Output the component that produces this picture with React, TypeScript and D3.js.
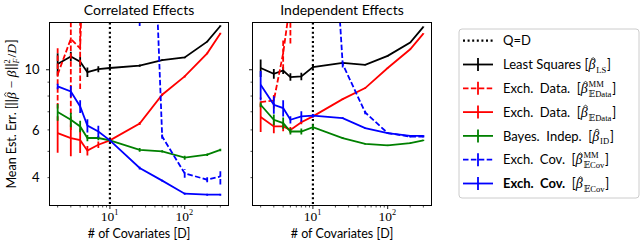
import React, { useEffect, useRef } from 'react';
import * as d3 from 'd3';

// number of covariates (shared x values)
const covariates = [2, 3, 4, 5, 7, 10, 25, 50, 100, 200, 300];

// --- Correlated effects ---
const corrLS = [10.5, 11.2, 10.7, 9.8, 10.05, 10.15, 10.35, 10.85, 11.1, 12.7, 14.5];
const corrLSErr = [1.0, 0.45, 0.45, 0.4, 0.25, 0.2, 0.1, 0.08, 0.08, 0.08, 0.08];
const corrEDataMM = [9.6, 13.0, 12.0, 80, 200, 400, 700, 900, 1100, 1300, 1500];
const corrEDataMMErr = [2.4, 7.0, 3.5, 40, 100, 200, 300, 400, 500, 600, 700];
const corrEData = [5.84, 5.6, 5.5, 5.03, 5.29, 5.49, 6.33, 8.09, 9.45, 11.5, 13.6];
const corrEDataErr = [0.9, 0.8, 0.57, 0.2, 0.15, 0.08, 0.08, 0.08, 0.08, 0.08, 0.08];
const corrID = [6.98, 6.54, 6.18, 5.6, 5.6, 5.49, 5.06, 5.0, 4.74, 4.86, 5.06];
const corrIDErr = [0.5, 0.4, 0.3, 0.15, 0.1, 0.05, 0.08, 0.05, 0.08, 0.05, 0.05];
const corrECovMM = [3000, 2600, 2200, 1900, 1500, 1200, 800, 5.67, 4.15, 3.93, 4.04];
const corrECovMMErr = [1500, 1300, 1100, 950, 800, 700, 785.5, 0.1, 0.15, 0.08, 0.27];
const corrECov = [8.68, 8.32, 7.32, 6.22, 5.92, 5.49, 4.34, 3.9, 3.49, 3.46, 3.46];
const corrECovErr = [0.2, 0.4, 0.4, 0.35, 0.3, 0.05, 0.05, 0.03, 0.03, 0.03, 0.03];

// --- Independent effects ---
const indLS = [10.15, 9.66, 9.94, 9.4, 9.45, 10.23, 10.6, 10.43, 11.25, 12.6, 14.4];
const indLSErr = [0.75, 0.4, 0.3, 0.3, 0.3, 0.15, 0.1, 0.05, 0.05, 0.05, 0.05];
const indEDataMM = [7.6, 7.7, 11.5, 18, 300, 500, 800, 1000, 1200, 1400, 1600];
const indEDataMMErr = [0.3, 0.5, 1.5, 5.5, 150, 250, 400, 500, 600, 700, 800];
const indEData = [6.7, 6.18, 6.18, 6.0, 6.4, 6.73, 7.79, 8.56, 10.15, 11.9, 13.6];
const indEDataErr = [0.8, 0.35, 0.25, 0.15, 0.1, 0.05, 0.05, 0.05, 0.05, 0.05, 0.05];
const indID = [7.43, 6.54, 6.36, 5.92, 5.92, 6.14, 5.6, 5.33, 5.26, 5.36, 5.49];
const indIDErr = [0.15, 0.3, 0.3, 0.15, 0.15, 0.15, 0.05, 0.03, 0.03, 0.03, 0.03];
const indECovMM = [3000, 2500, 2000, 1500, 1000, 600, 10.5, 6.96, 5.84, 5.67, 5.67];
const indECovMMErr = [1500, 1200, 1000, 750, 500, 300, 0.3, 0.1, 0.05, 0.05, 0.05];
const indECov = [8.8, 7.43, 7.22, 6.54, 6.73, 6.77, 6.63, 6.09, 5.84, 5.7, 5.7];
const indECovErr = [1.1, 0.55, 0.5, 0.2, 0.3, 0.1, 0.05, 0.03, 0.03, 0.03, 0.03];

const panelTitles = ['Correlated Effects', 'Independent Effects'];
const yTickLabels = [4, 6, 10];
const yMinorTicks = [4, 5, 6, 7, 8, 9];
const yMajorTicks = [10];
const xMajorTicks = [10, 100];
const xMinorTicks = [2, 3, 4, 5, 6, 7, 8, 9, 20, 30, 40, 50, 60, 70, 80, 90, 200, 300];
const qEqualsD = 10;

const SANS = 'Lato, "DejaVu Sans", sans-serif';
const SERIF = '"Liberation Serif", "DejaVu Serif", serif';

type Part = { t?: string; font?: 'sans' | 'serif' | 'it'; bold?: boolean; hat?: boolean; sup?: string; sub?: string; subIt?: boolean };

const beta: Part = { t: 'β', font: 'it', hat: true };

const seriesStyles = [
    { color: '#000000', dashed: false, label: [{ t: 'Least Squares [' }, beta, { sub: 'LS' }, { t: ']' }] },
    { color: '#ff0000', dashed: true, label: [{ t: 'Exch.\u00a0 Data.\u00a0 [' }, beta, { sup: 'MM', sub: '𝔼Data' }, { t: ']' }] },
    { color: '#ff0000', dashed: false, label: [{ t: 'Exch.\u00a0 Data.\u00a0 [' }, beta, { sub: '𝔼Data' }, { t: ']' }] },
    { color: '#008000', dashed: false, label: [{ t: 'Bayes.\u00a0 Indep.\u00a0 [' }, beta, { sub: 'ID' }, { t: ']' }] },
    { color: '#0000ff', dashed: true, label: [{ t: 'Exch.\u00a0 Cov.\u00a0 [' }, beta, { sup: 'MM', sub: '𝔼Cov' }, { t: ']' }] },
    { color: '#0000ff', dashed: false, label: [{ t: 'Exch.\u00a0 Cov.', bold: true }, { t: '\u00a0 [' }, beta, { sub: '𝔼Cov' }, { t: ']' }] },
] as { color: string; dashed: boolean; label: Part[] }[];

const corrSeries = [
    [corrLS, corrLSErr], [corrEDataMM, corrEDataMMErr], [corrEData, corrEDataErr],
    [corrID, corrIDErr], [corrECovMM, corrECovMMErr], [corrECov, corrECovErr],
];
const indSeries = [
    [indLS, indLSErr], [indEDataMM, indEDataMMErr], [indEData, indEDataErr],
    [indID, indIDErr], [indECovMM, indECovMMErr], [indECov, indECovErr],
];

const DASH = '5.5,2.4';

// draws a run of text pieces (with a little math) and returns the width
function drawParts(g: any, parts: Part[], x0: number, y0: number, size: number) {
    let cx = x0;
    parts.forEach(p => {
        if (p.t) {
            const serif = p.font === 'it' || p.font === 'serif';
            const el = g.append('text')
                .attr('x', cx).attr('y', y0)
                .attr('font-family', serif ? SERIF : SANS)
                .attr('font-size', serif ? size * 1.08 : size)
                .attr('font-style', p.font === 'it' ? 'italic' : 'normal')
                .attr('font-weight', p.bold ? 'bold' : 'normal')
                .style('white-space', 'pre')
                .text(p.t);
            const w = (el.node() as SVGTextElement).getComputedTextLength();
            if (p.hat) {
                // small circumflex drawn as a path above the glyph
                const hx = cx + w * 0.68, hy = y0 - size * 0.88;
                g.append('path')
                    .attr('d', `M${hx - 2.2},${hy + 1.6}L${hx},${hy}L${hx + 2.2},${hy + 1.6}`)
                    .attr('fill', 'none').attr('stroke', '#000').attr('stroke-width', 0.75);
            }
            cx += w + (p.font === 'it' ? 0.8 : 0);
        }
        if (p.sup || p.sub) {
            const s = size * 0.66;
            let w = 0;
            if (p.sup) {
                const el = g.append('text').attr('x', cx).attr('y', y0 - size * 0.45)
                    .attr('font-family', SERIF).attr('font-size', s).text(p.sup);
                w = Math.max(w, (el.node() as SVGTextElement).getComputedTextLength());
            }
            if (p.sub) {
                const el = g.append('text').attr('x', cx).attr('y', y0 + size * 0.3)
                    .attr('font-family', SERIF).attr('font-size', s)
                    .attr('font-style', p.subIt ? 'italic' : 'normal').text(p.sub);
                w = Math.max(w, (el.node() as SVGTextElement).getComputedTextLength());
            }
            cx += w + 0.8;
        }
    });
    return cx - x0;
}

const App = () => {
    const svgRef = useRef<SVGSVGElement>(null);

    useEffect(() => {
        if (!svgRef.current) return;
        const svg = d3.select(svgRef.current);
        svg.selectAll('*').remove();

        const top = 22.5, bottom = 205.5;
        const panelX = [[49.5, 228.5], [252.5, 431.5]];
        const y = d3.scaleLog().domain([3.157, 14.94]).range([bottom, top]);

        panelX.forEach(([left, right], pi) => {
            const x = d3.scaleLog().domain([1.556, 385.5]).range([left, right]);
            const data = pi === 0 ? corrSeries : indSeries;
            const clipId = `clip-${pi}`;
            svg.append('defs').append('clipPath').attr('id', clipId)
                .append('rect').attr('x', left).attr('y', top).attr('width', right - left).attr('height', bottom - top);

            // title
            svg.append('text')
                .attr('x', (left + right) / 2).attr('y', 14.5)
                .attr('text-anchor', 'middle')
                .attr('font-family', SANS).attr('font-size', 14)
                .text(panelTitles[pi]);

            const plot = svg.append('g').attr('clip-path', `url(#${clipId})`);

            // Q = D marker
            plot.append('line')
                .attr('x1', x(qEqualsD)).attr('x2', x(qEqualsD))
                .attr('y1', top).attr('y2', bottom)
                .attr('stroke', '#000').attr('stroke-width', 2.2)
                .attr('stroke-dasharray', '2,2.6');

            // series
            data.forEach(([vals, errs], si) => {
                const st = seriesStyles[si];
                const pts = covariates.map((d, i) => ({ d, v: vals[i], e: errs[i] }));
                const line = d3.line<any>().x(p => x(p.d)).y(p => y(p.v));
                plot.append('path')
                    .datum(pts)
                    .attr('d', line)
                    .attr('fill', 'none')
                    .attr('stroke', st.color)
                    .attr('stroke-width', 1.8)
                    .attr('stroke-dasharray', st.dashed ? DASH : null);
                plot.selectAll(null)
                    .data(pts)
                    .enter()
                    .append('line')
                    .attr('x1', p => x(p.d)).attr('x2', p => x(p.d))
                    .attr('y1', p => y(Math.max(p.v - p.e, 1)))
                    .attr('y2', p => y(p.v + p.e))
                    .attr('stroke', st.color)
                    .attr('stroke-width', 1.8)
                    .attr('stroke-dasharray', st.dashed ? DASH : null);
            });

            // frame
            svg.append('rect')
                .attr('x', left).attr('y', top)
                .attr('width', right - left).attr('height', bottom - top)
                .attr('fill', 'none').attr('stroke', '#000').attr('stroke-width', 1);

            // y ticks
            yMinorTicks.forEach(t => {
                svg.append('line').attr('x1', left - 2).attr('x2', left).attr('y1', y(t)).attr('y2', y(t))
                    .attr('stroke', '#000').attr('stroke-width', 0.7);
            });
            yMajorTicks.forEach(t => {
                svg.append('line').attr('x1', left - 3.5).attr('x2', left).attr('y1', y(t)).attr('y2', y(t))
                    .attr('stroke', '#000').attr('stroke-width', 0.9);
            });
            if (pi === 0) {
                yTickLabels.forEach(t => {
                    svg.append('text')
                        .attr('x', left - 10).attr('y', y(t) + 4.6)
                        .attr('text-anchor', 'end')
                        .attr('font-family', SANS).attr('font-size', 13)
                        .text(t);
                });
            }

            // x ticks
            xMinorTicks.forEach(t => {
                svg.append('line').attr('x1', x(t)).attr('x2', x(t)).attr('y1', bottom).attr('y2', bottom + 2)
                    .attr('stroke', '#000').attr('stroke-width', 0.7);
            });
            xMajorTicks.forEach(t => {
                svg.append('line').attr('x1', x(t)).attr('x2', x(t)).attr('y1', bottom).attr('y2', bottom + 3.5)
                    .attr('stroke', '#000').attr('stroke-width', 0.9);
                const lg = svg.append('g');
                const w = drawParts(lg, [{ t: '10', font: 'serif' }, { sup: String(Math.round(Math.log10(t))) }], 0, 221, 12.5);
                lg.attr('transform', `translate(${x(t) - w / 2},0)`);
            });

            // x label
            svg.append('text')
                .attr('x', (left + right) / 2).attr('y', 238)
                .attr('text-anchor', 'middle')
                .attr('font-family', SANS).attr('font-size', 12.5)
                .text('# of Covariates [D]');
        });

        // y label
        const yl = svg.append('g').attr('transform', 'translate(15.5,114) rotate(-90)');
        const yli = yl.append('g');
        const ylw = drawParts(yli, [
            { t: 'Mean Est. Err. [||' }, beta, { t: ' − ', font: 'serif' }, { t: 'β', font: 'it' },
            { t: '||' }, { sup: '2', sub: 'F', subIt: true }, { t: '/', font: 'serif' }, { t: 'D', font: 'it' }, { t: ']' },
        ], 0, 0, 12.5);
        yli.attr('transform', `translate(${-ylw / 2},0)`);

        // legend
        const lx = 459, ly = 29, lw = 180, lh = 169;
        svg.append('rect')
            .attr('x', lx).attr('y', ly).attr('width', lw).attr('height', lh)
            .attr('rx', 3).attr('fill', '#fff').attr('stroke', '#cccccc').attr('stroke-width', 1);
        const rowH = 23.8;
        const row0 = 40.7;
        const hx0 = 463, hx1 = 493, hc = 478, tx = 503;
        // Q=D entry
        svg.append('line')
            .attr('x1', hx0).attr('x2', hx1).attr('y1', row0).attr('y2', row0)
            .attr('stroke', '#000').attr('stroke-width', 2.2).attr('stroke-dasharray', '2,2.6');
        drawParts(svg, [{ t: 'Q=D' }], tx, row0 + 4.6, 13);
        seriesStyles.forEach((st, i) => {
            const ry = row0 + rowH * (i + 1);
            svg.append('line')
                .attr('x1', hx0).attr('x2', hx1).attr('y1', ry).attr('y2', ry)
                .attr('stroke', st.color).attr('stroke-width', 1.8)
                .attr('stroke-dasharray', st.dashed ? DASH : null);
            svg.append('line')
                .attr('x1', hc).attr('x2', hc).attr('y1', ry - 6.5).attr('y2', ry + 6.5)
                .attr('stroke', st.color).attr('stroke-width', 1.8);
            drawParts(svg, st.label, tx, ry + 4.6, 13);
        });
    }, []);

    return (
        <svg ref={svgRef} width={640} height={250}
            style={{ position: 'absolute', left: 0, top: 0, background: '#fff' }} />
    );
};

export default App;
